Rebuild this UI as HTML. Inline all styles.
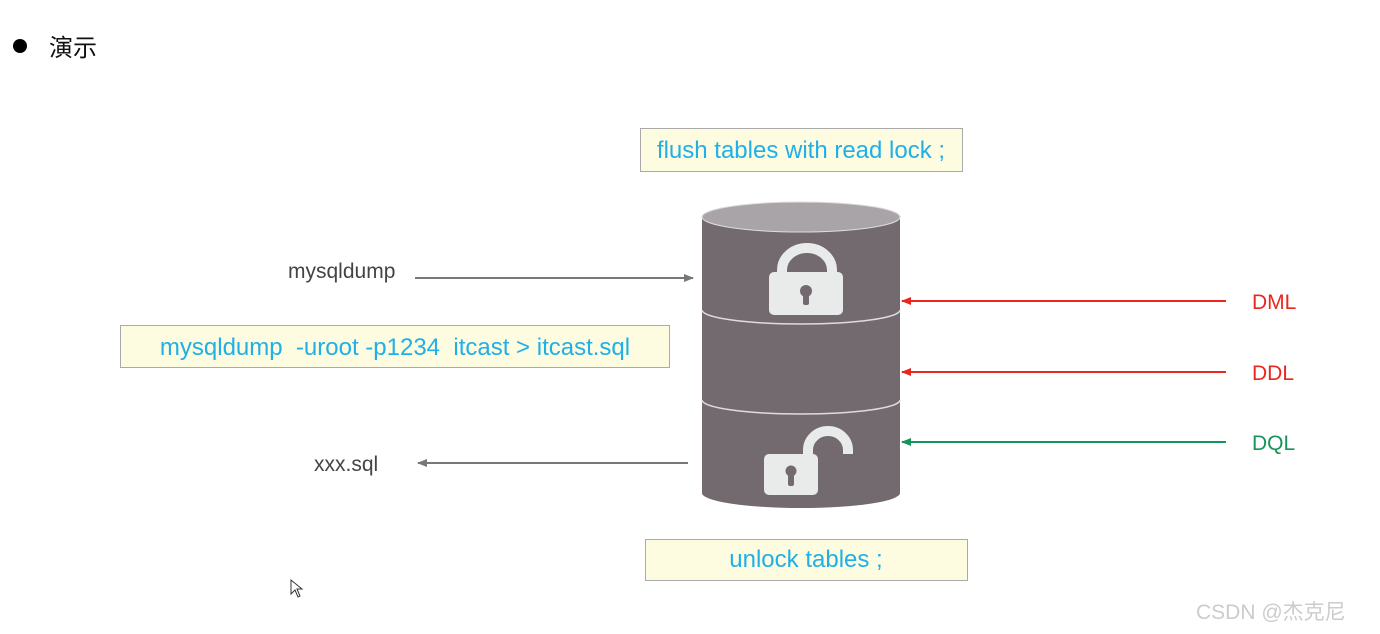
<!DOCTYPE html>
<html><head><meta charset="utf-8"><style>
html,body{margin:0;padding:0;background:#fff;width:1380px;height:634px;overflow:hidden}
svg{display:block}
text{font-family:"Liberation Sans","Noto Sans CJK SC",sans-serif}
</style></head><body>
<svg width="1380" height="634" viewBox="0 0 1380 634">
<defs>
<marker id="ag" markerWidth="10" markerHeight="10" refX="9" refY="5" orient="auto" markerUnits="userSpaceOnUse"><path d="M0,1 L10,5 L0,9 Z" fill="#777"/></marker>
<marker id="ar" markerWidth="10" markerHeight="10" refX="9" refY="5" orient="auto" markerUnits="userSpaceOnUse"><path d="M0,1 L10,5 L0,9 Z" fill="#e8281e"/></marker>
<marker id="agr" markerWidth="10" markerHeight="10" refX="9" refY="5" orient="auto" markerUnits="userSpaceOnUse"><path d="M0,1 L10,5 L0,9 Z" fill="#16955a"/></marker>
</defs>
<circle cx="20" cy="46" r="7" fill="#000"/>
<text x="49" y="56" font-size="24" fill="#111">演示</text>

<rect x="640.5" y="128.5" width="322" height="43" fill="#fdfbe0" stroke="#aaa"/>
<text x="801" y="158" font-size="24" fill="#1fb0e8" text-anchor="middle">flush tables with read lock ;</text>
<rect x="120.5" y="325.5" width="549" height="42" fill="#fdfbe0" stroke="#aaa"/>
<text x="395" y="355" font-size="24" fill="#1fb0e8" text-anchor="middle" xml:space="preserve">mysqldump  -uroot -p1234  itcast &gt; itcast.sql</text>
<rect x="645.5" y="539.5" width="322" height="41" fill="#fdfbe0" stroke="#aaa"/>
<text x="806" y="567" font-size="24" fill="#1fb0e8" text-anchor="middle">unlock tables ;</text>

<!-- cylinder -->
<path d="M702,217 L702,493 A99,15 0 0 0 900,493 L900,217 Z" fill="#736a6f"/>
<path d="M702,310 A99,14 0 0 0 900,310" fill="none" stroke="#ddd" stroke-width="1.5"/>
<path d="M702,400 A99,14 0 0 0 900,400" fill="none" stroke="#ddd" stroke-width="1.5"/>
<ellipse cx="801" cy="217" rx="99" ry="15" fill="#a9a4a7" stroke="#ddd" stroke-width="1"/>
<!-- closed lock -->
<path d="M782,275 L782,270 A25,22 0 0 1 832,270 L832,275" fill="none" stroke="#e9ebeb" stroke-width="10"/>
<rect x="769" y="272" width="74" height="43" rx="5" fill="#e9ebeb"/>
<circle cx="806" cy="291" r="6" fill="#736a6f"/><rect x="803" y="292" width="6" height="13" rx="2" fill="#736a6f"/>
<!-- open lock -->
<path d="M808,458 L808,450 A20,19 0 0 1 848,450 L848,454" fill="none" stroke="#e9ebeb" stroke-width="10"/>
<rect x="764" y="454" width="54" height="41" rx="5" fill="#e9ebeb"/>
<circle cx="791" cy="471" r="5.5" fill="#736a6f"/><rect x="788" y="472" width="6" height="14" rx="2" fill="#736a6f"/>

<!-- arrows -->
<line x1="415" y1="278" x2="693" y2="278" stroke="#777" stroke-width="2" marker-end="url(#ag)"/>
<line x1="688" y1="463" x2="418" y2="463" stroke="#777" stroke-width="2" marker-end="url(#ag)"/>
<line x1="1226" y1="301" x2="902" y2="301" stroke="#e8281e" stroke-width="2" marker-end="url(#ar)"/>
<line x1="1226" y1="372" x2="902" y2="372" stroke="#e8281e" stroke-width="2" marker-end="url(#ar)"/>
<line x1="1226" y1="442" x2="902" y2="442" stroke="#16955a" stroke-width="2" marker-end="url(#agr)"/>

<text x="288" y="278" font-size="21" fill="#444">mysqldump</text>
<text x="314" y="471" font-size="21" fill="#444">xxx.sql</text>
<text x="1252" y="309" font-size="21" fill="#e8281e">DML</text>
<text x="1252" y="380" font-size="21" fill="#e8281e">DDL</text>
<text x="1252" y="450" font-size="21" fill="#16955a">DQL</text>

<path d="M291,580 L291,594 L295,590 L298,597 L300,596 L297,589 L302,589 Z" fill="#fff" stroke="#333" stroke-width="1"/>
<text x="1196" y="619" font-size="21" fill="#ccc">CSDN @杰克尼</text>
</svg>
</body></html>
